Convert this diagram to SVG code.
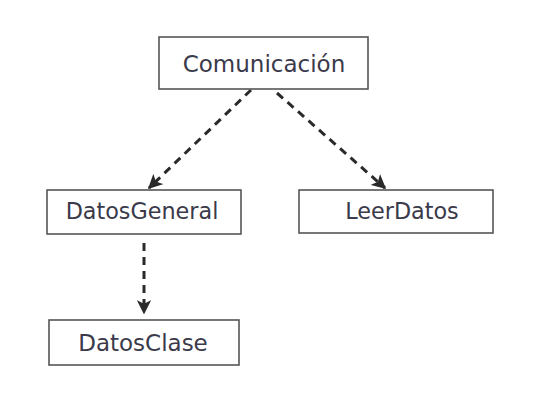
<svg xmlns="http://www.w3.org/2000/svg" width="555" height="402" viewBox="0 0 555 402">
<style>
.box{fill:#fff;stroke:#555;stroke-width:1.6}
.lbl{font-family:"DejaVu Sans",Verdana,sans-serif;font-size:22.3px;fill:#3a3a4a;text-anchor:middle}
.edge{fill:none;stroke:#2a2a2a;stroke-width:3;stroke-dasharray:8,6}
</style>
<defs>
<marker id="arr" viewBox="0 0 10 10" refX="9" refY="5" markerWidth="4.8" markerHeight="4.8" orient="auto" markerUnits="strokeWidth">
<path d="M0,0 L10,5 L0,10 L2.5,5 Z" fill="#2a2a2a"/>
</marker>
</defs>
<rect width="555" height="402" fill="#fff"/>
<g id="edges">
<line class="edge" x1="251" y1="90" x2="149" y2="188" marker-end="url(#arr)"/>
<line class="edge" x1="277" y1="93" x2="385" y2="188" marker-end="url(#arr)"/>
<line class="edge" x1="144" y1="243" x2="144" y2="313" marker-end="url(#arr)"/>
</g>
<g id="comunicacion">
<rect class="box" x="159" y="37" width="209" height="52"/>
<text class="lbl" x="264" y="72" style="font-size:23px">Comunicación</text>
</g>
<g id="datosgeneral">
<rect class="box" x="47" y="190" width="194" height="44"/>
<text class="lbl" x="142" y="219">DatosGeneral</text>
</g>
<g id="leerdatos">
<rect class="box" x="299" y="190" width="194" height="43"/>
<text class="lbl" x="402" y="219">LeerDatos</text>
</g>
<g id="datosclase">
<rect class="box" x="49" y="320" width="190" height="45"/>
<text class="lbl" x="143" y="351" style="font-size:23px">DatosClase</text>
</g>
</svg>
